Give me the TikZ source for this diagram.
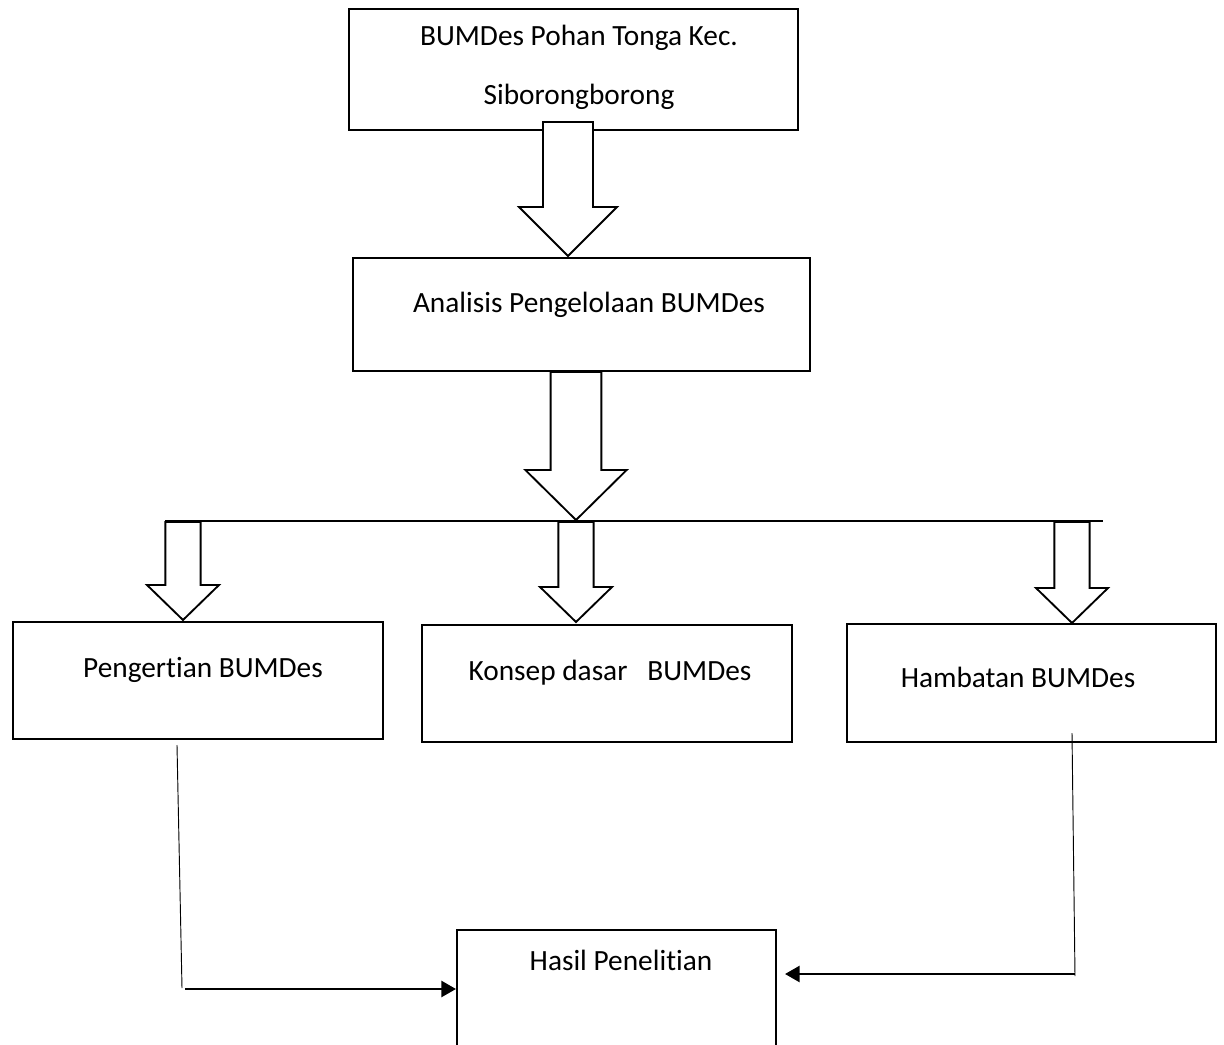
\documentclass[tikz,border=0pt]{standalone}
\usepackage{fontspec}
\setmainfont{Carlito}[RawFeature={-liga}]
\usetikzlibrary{arrows.meta,calc}
\tikzset{
    box/.style 2 args={draw, line width=1.5pt, minimum width=#1*0.75pt, minimum height=#2*0.75pt, inner sep=0pt},
    boxtext/.style={inner sep=0pt, align=center},
    blockarr/.style n args={3}{draw, line width=1.4pt, fill=white, line join=miter,
        to path={let \p1=(\tikztostart), \p2=(\tikztotarget) in
            (\x2-#1,\y1) -- (\x2-#1,\y2+#3) -- (\x2-#2,\y2+#3) -- (\x2,\y2)
            -- (\x2+#2,\y2+#3) -- (\x2+#1,\y2+#3) -- (\x2+#1,\y1) -- cycle}},
    thinline/.style={line width=0.7pt},
    resultarr/.style={line width=2pt, -{Triangle[length=11pt,width=12pt]}}
}
\begin{document}
\begin{tikzpicture}[x=0.75pt, y=-0.75pt, font=\fontsize{22}{26}\selectfont]
    \useasboundingbox (0,0) rectangle (1224,1045);

    % Boxes
    \node[box={449}{121}] (src) at (573.5,69.5) {};
    \node[box={457}{113}] (ana) at (581.5,314.5) {};
    \node[box={370}{117}] (peng) at (198,680.5) {};
    \node[box={370}{117}] (kon) at (607,683.5) {};
    \node[box={369}{118}] (hamb) at (1031.5,683) {};
    \node[box={319}{118}] (hasil) at (616.5,989) {};

    % Box texts
    \node[boxtext] (srctxt) at (579,67.5) {BUMDes Pohan Tonga Kec.\\[18pt]Siborongborong};
    \node[boxtext] (anatxt) at (589,305) {Analisis Pengelolaan BUMDes};
    \node[boxtext] (pengtxt) at (203,670) {Pengertian BUMDes};
    \node[boxtext] (kontxt) at (610,673) {Konsep dasar\ \ \ BUMDes};
    \node[boxtext] (hambtxt) at (1018,677) {Hambatan BUMDes};
    \node[boxtext] (hasiltxt) at (621,960) {Hasil Penelitian};

    % Branch line
    \coordinate (brl) at (165,521);
    \coordinate (brr) at (1103,521);
    \draw[line width=1.3pt] (brl) -- (brr);

    % Block arrows
    \coordinate (a1s) at (568,122);
    \coordinate (a1t) at (568,256);
    \coordinate (a2s) at (576,372);
    \coordinate (a2t) at (576,520);
    \draw[blockarr={18.75pt}{36.75pt}{36.75pt}] (a1s) to (a1t);
    \draw[blockarr={19pt}{38pt}{37.5pt}] (a2s) to (a2t);
    \foreach \name/\xpos/\ypos in {pe/183/620, ko/576/622, ha/1072/623} {
        \coordinate (\name s) at (\xpos,522);
        \coordinate (\name t) at (\xpos,\ypos);
        \draw[blockarr={13.25pt}{27pt}{26.25pt}] (\name s) to (\name t);
    }

    % Lines to result
    \coordinate (hl1) at (177,745);
    \coordinate (hl2) at (182,988);
    \coordinate (hl3) at (185,989);
    \draw[thinline] (hl1) -- (hl2);
    \draw[resultarr] (hl3) -- (hasil.west);

    \coordinate (hr1) at (1072,733);
    \coordinate (hr2) at (1075,976);
    \coordinate (hr3) at (1075,974);
    \coordinate (hr4) at (785,974);
    \draw[thinline] (hr1) -- (hr2);
    \draw[resultarr] (hr3) -- (hr4);
\end{tikzpicture}
\end{document}
